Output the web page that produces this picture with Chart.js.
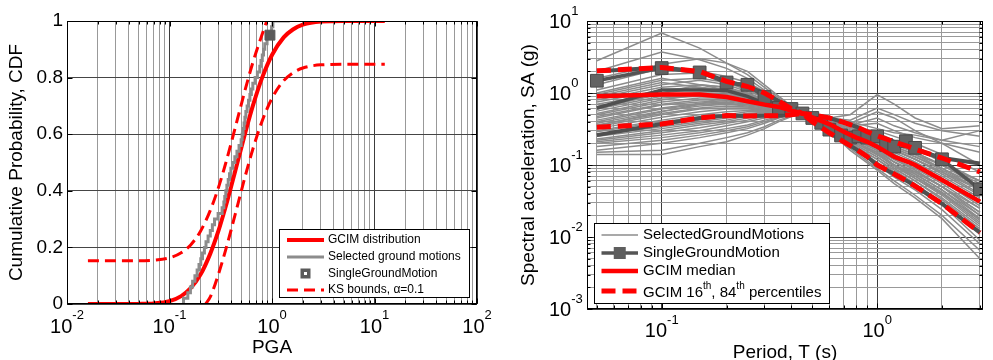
<!DOCTYPE html>
<html>
<head>
<meta charset="utf-8">
<script src="https://cdn.jsdelivr.net/npm/chart.js@4.4.1/dist/chart.umd.min.js"></script>
<style>
  html, body { margin: 0; padding: 0; background: #fff; }
  body { width: 993px; height: 360px; overflow: hidden; position: relative; }
  #cdfChart { position: absolute; left: 0; top: 0; }
  #saChart { position: absolute; left: 500px; top: 0; }
</style>
</head>
<body>
<canvas id="cdfChart" width="500" height="360"></canvas>
<canvas id="saChart" width="493" height="360"></canvas>
<script>
// ---------------- Left panel: CDF of PGA ----------------
const pgaGrid = [0.016, 0.03, 0.05, 0.07, 0.1, 0.13, 0.16, 0.2, 0.25, 0.3, 0.35, 0.4, 0.46, 0.55, 0.65, 0.8, 1.0, 1.3, 1.6, 2.0, 3.0, 5.0, 12.6];
const gcimCdf = [0, 0, 0.0004, 0.002, 0.010, 0.028, 0.055, 0.103, 0.178, 0.258, 0.339, 0.416, 0.5, 0.607, 0.70, 0.799, 0.880, 0.942, 0.970, 0.987, 0.998, 1.0, 1.0];

const ksUpperPGA = [0.016, 0.05, 0.07, 0.1, 0.13, 0.16, 0.2, 0.25, 0.3, 0.35, 0.4, 0.46, 0.55, 0.65, 0.8, 0.89];
const ksUpper = [0.153, 0.153, 0.155, 0.163, 0.181, 0.208, 0.256, 0.331, 0.411, 0.492, 0.569, 0.653, 0.760, 0.853, 0.952, 1.0];
const ksLowerPGA = [0.225, 0.25, 0.3, 0.35, 0.4, 0.46, 0.55, 0.65, 0.8, 1.0, 1.3, 1.6, 2.0, 3.0, 5.0, 12.6];
const ksLower = [0, 0.025, 0.105, 0.186, 0.263, 0.347, 0.454, 0.547, 0.646, 0.727, 0.789, 0.817, 0.834, 0.845, 0.847, 0.847];

// sorted PGA of the selected records (empirical CDF)
const selectedPGA = [0.137, 0.151, 0.160, 0.168, 0.177, 0.186, 0.194, 0.202, 0.210, 0.219,
                     0.227, 0.238, 0.250, 0.262, 0.275, 0.298, 0.326, 0.339, 0.346, 0.354,
                     0.363, 0.374, 0.385, 0.397, 0.415, 0.434, 0.455, 0.477, 0.500, 0.511,
                     0.522, 0.534, 0.544, 0.556, 0.572, 0.590, 0.609, 0.629, 0.650, 0.684,
                     0.720, 0.760, 0.781, 0.804, 0.826, 0.850, 0.895, 0.940, 0.990, 1.020];
const selectedTailPGA = 1.49;
const singlePGA = 0.955;
const singleCdf = 0.95;

// ---------------- Right panel: spectra ----------------
const periodsGM = [0.05, 0.1, 0.15, 0.2, 0.25, 0.3, 0.35, 0.4, 0.45, 0.6, 0.75, 1.0, 1.2, 1.5, 2.0, 3.0];
const selectedSpectra = [
  [2.8, 6.8, 4.2, 2.6, 1.8, 1.2, 0.85, 0.65, 0.52, 0.42, 0.38, 0.55, 0.45, 0.30, 0.20, 0.10],
  [2.0, 3.7, 2.9, 2.2, 1.6, 1.1, 0.8, 0.62, 0.52, 0.45, 0.50, 0.95, 0.70, 0.45, 0.32, 0.35],
  [1.6, 2.5, 3.0, 2.6, 2.0, 1.3, 0.9, 0.66, 0.52, 0.40, 0.30, 0.22, 0.17, 0.13, 0.09, 0.05],
  [1.3, 2.2, 2.0, 1.7, 1.4, 1.05, 0.78, 0.62, 0.52, 0.38, 0.28, 0.20, 0.15, 0.11, 0.07, 0.035],
  [1.1, 1.8, 1.9, 1.5, 1.2, 0.95, 0.75, 0.6, 0.52, 0.33, 0.22, 0.15, 0.10, 0.075, 0.045, 0.02],
  [0.95, 1.5, 1.6, 1.4, 1.1, 0.9, 0.72, 0.58, 0.52, 0.36, 0.26, 0.2, 0.16, 0.12, 0.08, 0.045],
  [0.85, 1.3, 1.5, 1.3, 1.05, 0.88, 0.7, 0.58, 0.52, 0.40, 0.32, 0.28, 0.22, 0.17, 0.11, 0.06],
  [0.8, 1.2, 1.3, 1.2, 1.0, 0.82, 0.68, 0.57, 0.52, 0.34, 0.24, 0.16, 0.12, 0.085, 0.05, 0.022],
  [0.75, 1.1, 1.2, 1.1, 0.95, 0.8, 0.66, 0.56, 0.52, 0.37, 0.27, 0.19, 0.14, 0.10, 0.065, 0.03],
  [0.7, 1.0, 1.15, 1.15, 0.98, 0.78, 0.65, 0.56, 0.52, 0.39, 0.3, 0.24, 0.18, 0.14, 0.10, 0.05],
  [0.65, 0.95, 1.0, 1.0, 0.9, 0.76, 0.64, 0.56, 0.52, 0.35, 0.23, 0.14, 0.10, 0.07, 0.04, 0.018],
  [0.6, 0.9, 1.0, 0.95, 0.85, 0.74, 0.63, 0.56, 0.52, 0.38, 0.29, 0.22, 0.17, 0.13, 0.085, 0.045],
  [0.56, 0.85, 0.9, 0.9, 0.82, 0.72, 0.62, 0.55, 0.52, 0.36, 0.25, 0.17, 0.12, 0.09, 0.055, 0.025],
  [0.52, 0.8, 0.95, 0.92, 0.8, 0.7, 0.61, 0.55, 0.52, 0.41, 0.33, 0.3, 0.25, 0.2, 0.14, 0.08],
  [0.5, 0.75, 0.85, 0.85, 0.78, 0.69, 0.61, 0.55, 0.52, 0.33, 0.21, 0.13, 0.09, 0.06, 0.035, 0.014],
  [0.47, 0.7, 0.8, 0.8, 0.75, 0.68, 0.6, 0.55, 0.52, 0.37, 0.28, 0.21, 0.16, 0.12, 0.075, 0.038],
  [0.45, 0.68, 0.75, 0.78, 0.72, 0.66, 0.6, 0.55, 0.52, 0.35, 0.24, 0.16, 0.11, 0.08, 0.05, 0.02],
  [0.42, 0.62, 0.72, 0.75, 0.7, 0.65, 0.59, 0.54, 0.52, 0.38, 0.3, 0.26, 0.2, 0.15, 0.1, 0.06],
  [0.4, 0.6, 0.7, 0.72, 0.68, 0.64, 0.58, 0.54, 0.52, 0.34, 0.22, 0.14, 0.1, 0.065, 0.04, 0.016],
  [0.38, 0.56, 0.66, 0.7, 0.66, 0.62, 0.58, 0.54, 0.52, 0.36, 0.26, 0.19, 0.14, 0.1, 0.065, 0.03],
  [0.36, 0.52, 0.62, 0.66, 0.64, 0.6, 0.57, 0.54, 0.52, 0.32, 0.2, 0.12, 0.085, 0.055, 0.03, 0.012],
  [0.34, 0.5, 0.6, 0.62, 0.62, 0.6, 0.57, 0.54, 0.52, 0.39, 0.31, 0.25, 0.19, 0.15, 0.1, 0.055],
  [0.32, 0.46, 0.55, 0.6, 0.6, 0.58, 0.56, 0.54, 0.52, 0.35, 0.24, 0.17, 0.12, 0.085, 0.05, 0.022],
  [0.3, 0.42, 0.5, 0.55, 0.57, 0.57, 0.55, 0.53, 0.52, 0.33, 0.21, 0.13, 0.09, 0.06, 0.033, 0.013],
  [0.29, 0.4, 0.46, 0.5, 0.55, 0.56, 0.55, 0.53, 0.52, 0.37, 0.28, 0.21, 0.16, 0.12, 0.08, 0.04],
  [0.27, 0.36, 0.42, 0.48, 0.52, 0.54, 0.54, 0.53, 0.52, 0.34, 0.23, 0.15, 0.1, 0.07, 0.042, 0.017],
  [0.26, 0.34, 0.4, 0.45, 0.5, 0.53, 0.53, 0.53, 0.52, 0.31, 0.19, 0.11, 0.075, 0.05, 0.028, 0.009],
  [0.25, 0.32, 0.38, 0.42, 0.48, 0.52, 0.53, 0.52, 0.52, 0.36, 0.26, 0.18, 0.13, 0.095, 0.06, 0.027],
  [0.23, 0.3, 0.36, 0.4, 0.45, 0.5, 0.52, 0.52, 0.52, 0.32, 0.2, 0.12, 0.08, 0.052, 0.03, 0.011],
  [0.22, 0.28, 0.33, 0.38, 0.42, 0.48, 0.5, 0.51, 0.52, 0.38, 0.3, 0.24, 0.18, 0.14, 0.09, 0.045],
  [0.21, 0.26, 0.3, 0.35, 0.4, 0.45, 0.49, 0.51, 0.52, 0.3, 0.17, 0.09, 0.06, 0.038, 0.02, 0.0065],
  [0.2, 0.24, 0.28, 0.32, 0.36, 0.42, 0.47, 0.5, 0.52, 0.35, 0.25, 0.16, 0.11, 0.075, 0.045, 0.018],
  [0.18, 0.22, 0.26, 0.3, 0.34, 0.4, 0.46, 0.5, 0.52, 0.33, 0.22, 0.14, 0.095, 0.065, 0.038, 0.015],
  [0.16, 0.2, 0.24, 0.28, 0.32, 0.38, 0.45, 0.5, 0.52, 0.31, 0.18, 0.1, 0.068, 0.045, 0.024, 0.008],
  [0.15, 0.16, 0.2, 0.24, 0.28, 0.34, 0.42, 0.48, 0.52, 0.3, 0.16, 0.085, 0.055, 0.035, 0.018, 0.005],
  [0.14, 0.14, 0.18, 0.21, 0.26, 0.32, 0.4, 0.47, 0.52, 0.34, 0.22, 0.15, 0.11, 0.08, 0.05, 0.025],
  [0.6, 1.0, 1.3, 1.2, 0.9, 0.75, 0.62, 0.56, 0.52, 0.45, 0.42, 0.62, 0.5, 0.38, 0.3, 0.25],
  [0.9, 1.4, 1.2, 1.0, 0.85, 0.72, 0.62, 0.56, 0.52, 0.4, 0.36, 0.45, 0.35, 0.28, 0.22, 0.18],
  [0.35, 0.55, 0.7, 0.9, 1.0, 0.8, 0.65, 0.56, 0.52, 0.42, 0.35, 0.38, 0.3, 0.24, 0.2, 0.15],
  [1.0, 1.6, 1.3, 1.1, 0.95, 0.8, 0.66, 0.56, 0.52, 0.44, 0.4, 0.32, 0.28, 0.26, 0.22, 0.3]
];

const periodsSingle = [0.05, 0.1, 0.15, 0.2, 0.25, 0.3, 0.35, 0.4, 0.45, 0.5, 0.55, 0.6, 0.68, 0.75, 0.82, 0.9, 1.0, 1.1, 1.2, 1.36, 1.5, 2.0, 3.0];
const singleSA = [1.48, 2.22, 1.93, 1.40, 1.30, 0.88, 0.62, 0.60, 0.52, 0.45, 0.385, 0.31, 0.257, 0.24, 0.25, 0.24, 0.25, 0.19, 0.18, 0.214, 0.173, 0.12, 0.046];

const periodsGCIM = [0.05, 0.1, 0.15, 0.2, 0.25, 0.3, 0.35, 0.4, 0.45, 0.5, 0.6, 0.7, 0.8, 0.9, 1.0, 1.2, 1.4, 1.5, 2.0, 3.0];
const gcimMedian = [0.90, 0.95, 0.95, 0.88, 0.77, 0.69, 0.64, 0.57, 0.52, 0.46, 0.37, 0.29, 0.24, 0.21, 0.18, 0.13, 0.11, 0.10, 0.062, 0.031];
const gcim84 = [2.03, 2.26, 1.99, 1.45, 1.23, 1.0, 0.77, 0.6, 0.52, 0.50, 0.45, 0.39, 0.34, 0.29, 0.255, 0.21, 0.18, 0.165, 0.125, 0.08];
const gcim16 = [0.334, 0.37, 0.45, 0.485, 0.48, 0.485, 0.485, 0.5, 0.52, 0.40, 0.28, 0.21, 0.165, 0.13, 0.10, 0.075, 0.058, 0.051, 0.029, 0.0115];
// statistics of the selected set (dark lines running under the GCIM curves)
const setMedian = [0.62, 1.1, 1.1, 1.08, 0.9, 0.72, 0.62, 0.56, 0.52, 0.46, 0.37, 0.29, 0.24, 0.21, 0.18, 0.13, 0.11, 0.10, 0.062, 0.031];
const set84 = [2.0, 2.26, 1.99, 1.45, 1.23, 1.0, 0.77, 0.6, 0.52, 0.50, 0.45, 0.39, 0.34, 0.29, 0.255, 0.21, 0.18, 0.165, 0.125, 0.105];
const set16 = [0.26, 0.37, 0.45, 0.485, 0.48, 0.485, 0.485, 0.5, 0.52, 0.40, 0.28, 0.21, 0.165, 0.13, 0.10, 0.075, 0.058, 0.051, 0.029, 0.0115];

// ---------------- styling helpers ----------------
const FONT = "'Liberation Sans', Arial, Helvetica, sans-serif";
Chart.defaults.font.family = FONT;
Chart.defaults.color = '#000';
const RED = '#ff0000', GREY = '#8c8c8c', DARK = '#505050';
const gridMajor = '#3c3c3c', gridMinor = '#999999';

const pts = (xs, ys) => xs.map((x, i) => ({ x: x, y: ys[i] }));
function isDecade(v) { const l = Math.log10(v); return Math.abs(l - Math.round(l)) < 1e-6; }
// ticks at 1..9 x 10^n, used for the log grid
function logTicks(min, max) {
  const out = [];
  for (let e = Math.floor(Math.log10(min)); e <= Math.ceil(Math.log10(max)); e++) {
    for (let m = 1; m <= 9; m++) {
      const v = +(m * Math.pow(10, e)).toPrecision(6);
      if (v >= min * 0.9999 && v <= max * 1.0001) out.push({ value: v });
    }
  }
  return out;
}
const logGridColor = c => (c.tick && isDecade(c.tick.value)) ? gridMajor : gridMinor;

// axes box and inward tick marks
const frame = {
  id: 'frame',
  afterDatasetsDraw(chart) {
    const { ctx, chartArea: a } = chart;
    const L = Math.round(a.left) + 0.5, R = Math.round(a.right) - 0.5;
    const T = Math.round(a.top) + 0.5, B = Math.round(a.bottom) - 0.5;
    ctx.save();
    ctx.strokeStyle = '#000';
    ctx.lineWidth = 1;
    ctx.beginPath();
    const xs = chart.scales.x, ys = chart.scales.y;
    xs.ticks.forEach(t => {
      const p = Math.round(xs.getPixelForValue(t.value)) + 0.5;
      const len = isDecade(t.value) ? 5 : 3;
      ctx.moveTo(p, B); ctx.lineTo(p, B - len);
      ctx.moveTo(p, T); ctx.lineTo(p, T + len);
    });
    ys.ticks.forEach(t => {
      const p = Math.round(ys.getPixelForValue(t.value)) + 0.5;
      const len = (ys.type !== 'logarithmic' || isDecade(t.value)) ? 5 : 3;
      ctx.moveTo(L, p); ctx.lineTo(L + len, p);
      ctx.moveTo(R, p); ctx.lineTo(R - len, p);
    });
    ctx.stroke();
    ctx.strokeRect(L, T, R - L, B - T);
    ctx.restore();
  }
};

// "10" with a raised exponent at each decade tick
const powerLabels = {
  id: 'powerLabels',
  afterDraw(chart, args, opts) {
    const ctx = chart.ctx;
    ctx.save();
    ctx.fillStyle = '#000';
    ctx.textBaseline = 'alphabetic';
    ctx.textAlign = 'left';
    Object.keys(opts).forEach(id => {
      const o = opts[id];
      const scale = chart.scales[id];
      if (!scale || !o || typeof o !== 'object') return;
      scale.ticks.forEach(t => {
        if (!isDecade(t.value)) return;
        const e = String(Math.round(Math.log10(t.value)));
        const p = scale.getPixelForValue(t.value);
        ctx.font = o.base + 'px ' + FONT;
        const wb = ctx.measureText('10').width;
        ctx.font = o.sup + 'px ' + FONT;
        const we = ctx.measureText(e).width;
        let x0, yb, ys;
        if (scale.isHorizontal()) {
          x0 = p - (wb + we) / 2;
          yb = scale.top + o.dyBase;
          ys = scale.top + o.dySup;
        } else {
          x0 = o.left;
          yb = p + o.dyBase;
          ys = p + o.dySup;
        }
        ctx.font = o.base + 'px ' + FONT;
        ctx.fillText('10', x0, yb);
        ctx.font = o.sup + 'px ' + FONT;
        ctx.fillText(e, x0 + wb, ys);
      });
    });
    ctx.restore();
  }
};

// boxed legend inside the axes
const boxLegend = {
  id: 'boxLegend',
  afterDraw(chart, args, o) {
    const ctx = chart.ctx;
    ctx.save();
    const [bx, by, bw, bh] = o.box;
    ctx.fillStyle = '#fff';
    ctx.fillRect(bx, by, bw, bh);
    ctx.strokeStyle = '#000';
    ctx.lineWidth = 1;
    ctx.strokeRect(bx, by, bw, bh);
    o.items.forEach(it => {
      const [s0, s1] = o.sample;
      if (it.width) {
        ctx.beginPath();
        ctx.strokeStyle = it.color;
        ctx.lineWidth = it.width;
        ctx.setLineDash(it.dash || []);
        ctx.moveTo(s0, it.y); ctx.lineTo(s1, it.y);
        ctx.stroke();
        ctx.setLineDash([]);
      }
      if (it.marker) {
        const m = it.marker, cx = (s0 + s1) / 2, h = m.size / 2;
        ctx.fillStyle = m.fill;
        ctx.fillRect(cx - h, it.y - h, m.size, m.size);
        if (m.dot) { ctx.fillStyle = m.dot; ctx.fillRect(cx - 1.5, it.y - 1.5, 3, 3); }
      }
      ctx.fillStyle = '#000';
      ctx.textAlign = 'left';
      if (it.parts) {
        ctx.textBaseline = 'alphabetic';
        let x = o.textX;
        it.parts.forEach(p => {
          ctx.font = (p.sup ? o.supFont : o.font) + 'px ' + FONT;
          ctx.fillText(p.t, x, p.sup ? it.supBaseline : it.baseline);
          x += ctx.measureText(p.t).width;
        });
      } else {
        ctx.textBaseline = 'middle';
        ctx.font = o.font + 'px ' + FONT;
        ctx.fillText(it.text, o.textX, it.y);
      }
    });
    ctx.restore();
  }
};

const common = {
  responsive: false,
  devicePixelRatio: 1,
  animation: false,
  events: [],
  elements: { point: { radius: 0 }, line: { tension: 0 } },
};

// ---------------- left chart ----------------
const ecdf = [{ x: selectedPGA[0], y: 0 }]
  .concat(selectedPGA.map((x, i) => ({ x: x, y: (i + 1) / selectedPGA.length })))
  .concat([{ x: selectedTailPGA, y: 1 }]);

new Chart(document.getElementById('cdfChart'), {
  type: 'line',
  data: {
    datasets: [
      { label: 'KS bounds, α=0.1', data: pts(ksUpperPGA, ksUpper), borderColor: RED, borderWidth: 3, borderDash: [11, 6], cubicInterpolationMode: 'monotone', order: 0 },
      { label: 'KS lower bound', data: pts(ksLowerPGA, ksLower), borderColor: RED, borderWidth: 3, borderDash: [11, 6], cubicInterpolationMode: 'monotone', order: 0 },
      { label: 'SingleGroundMotion', data: [{ x: singlePGA, y: singleCdf }], showLine: false, pointStyle: 'rect', pointRadius: 7, pointBackgroundColor: '#5a5a5a', pointBorderColor: '#5a5a5a', order: 1 },
      { label: 'Selected ground motions', data: ecdf, stepped: 'before', borderColor: GREY, borderWidth: 3, order: 2 },
      { label: 'GCIM distribution', data: pts(pgaGrid, gcimCdf), borderColor: RED, borderWidth: 4, cubicInterpolationMode: 'monotone', order: 3 }
    ]
  },
  options: Object.assign({}, common, {
    layout: { padding: { top: 21, right: 23, left: 0, bottom: 0 } },
    scales: {
      x: {
        type: 'logarithmic', min: 0.01, max: 100,
        afterBuildTicks: s => { s.ticks = logTicks(0.01, 100); },
        afterFit: s => { s.height = 56; },
        ticks: { display: false },
        grid: { color: logGridColor, drawTicks: false, lineWidth: 1 },
        border: { display: false },
        title: { display: true, text: 'PGA', font: { size: 19, lineHeight: 1 }, padding: { top: 0, bottom: 3 } }
      },
      y: {
        type: 'linear', min: 0, max: 1,
        afterFit: s => { s.width = 67; },
        ticks: { stepSize: 0.2, font: { size: 19 }, color: '#000', padding: 4, callback: v => String(+v.toFixed(1)) },
        grid: { color: '#454545', drawTicks: false, lineWidth: 1 },
        border: { display: false },
        title: { display: true, text: 'Cumulative Probability, CDF', font: { size: 19, lineHeight: 1 }, padding: { top: 7.5, bottom: 0 } }
      }
    },
    plugins: {
      legend: { display: false },
      tooltip: { enabled: false },
      powerLabels: { x: { base: 20, sup: 13, dyBase: 29, dySup: 15 } },
      boxLegend: {
        box: [279.5, 229.5, 190, 68], sample: [287, 324], textX: 328, font: 12, supFont: 8,
        items: [
          { y: 240, color: RED, width: 4, text: 'GCIM distribution' },
          { y: 257, color: GREY, width: 3, text: 'Selected ground motions' },
          { y: 273.5, marker: { fill: '#5a5a5a', size: 10, dot: '#ffffff' }, text: 'SingleGroundMotion' },
          { y: 290, color: RED, width: 3, dash: [11, 6], text: 'KS bounds, α=0.1' }
        ]
      }
    }
  }),
  plugins: [frame, powerLabels, boxLegend]
});

// ---------------- right chart ----------------
const greyLines = selectedSpectra.map((sa, i) => ({
  label: 'GM ' + (i + 1), data: pts(periodsGM, sa), borderColor: GREY, borderWidth: 1.5, order: 6
}));

new Chart(document.getElementById('saChart'), {
  type: 'line',
  data: {
    datasets: [
      { label: 'GCIM 84th percentile', data: pts(periodsGCIM, gcim84), borderColor: RED, borderWidth: 5, borderDash: [14, 7], order: 0 },
      { label: 'GCIM 16th percentile', data: pts(periodsGCIM, gcim16), borderColor: RED, borderWidth: 5, borderDash: [14, 7], order: 0 },
      { label: 'GCIM median', data: pts(periodsGCIM, gcimMedian), borderColor: RED, borderWidth: 4.5, order: 1 },
      { label: 'SingleGroundMotion', data: pts(periodsSingle, singleSA), borderColor: '#555555', borderWidth: 3.5,
        pointStyle: 'rect', pointRadius: 9, pointBackgroundColor: '#636363', pointBorderColor: '#4a4a4a', pointBorderWidth: 1, order: 2 },
      { label: 'Set 84th', data: pts(periodsGCIM, set84), borderColor: DARK, borderWidth: 4, order: 3 },
      { label: 'Set 16th', data: pts(periodsGCIM, set16), borderColor: DARK, borderWidth: 4, order: 3 },
      { label: 'Set median', data: pts(periodsGCIM, setMedian), borderColor: DARK, borderWidth: 3.5, order: 3 }
    ].concat(greyLines)
  },
  options: Object.assign({}, common, {
    layout: { padding: { top: 21, right: 1, left: 0, bottom: 0 } },
    scales: {
      x: {
        type: 'logarithmic', min: 0.045, max: 3.1,
        afterBuildTicks: s => { s.ticks = logTicks(0.045, 3.1); },
        afterFit: s => { s.height = 51; },
        ticks: { display: false },
        grid: { color: logGridColor, drawTicks: false, lineWidth: 1 },
        border: { display: false },
        title: { display: true, text: 'Period, T (s)', font: { size: 19, lineHeight: 1 }, padding: { top: 0, bottom: -2 } }
      },
      y: {
        type: 'logarithmic', min: 0.001, max: 10,
        afterBuildTicks: s => { s.ticks = logTicks(0.001, 10); },
        afterFit: s => { s.width = 87; },
        ticks: { display: false },
        grid: { color: logGridColor, drawTicks: false, lineWidth: 1 },
        border: { display: false },
        title: { display: true, text: 'Spectral acceleration, SA (g)', font: { size: 19, lineHeight: 1 }, padding: { top: 19, bottom: 0 } }
      }
    },
    plugins: {
      legend: { display: false },
      tooltip: { enabled: false },
      powerLabels: {
        x: { base: 20, sup: 13, dyBase: 28, dySup: 15 },
        y: { base: 20, sup: 13, left: 49, dyBase: 7, dySup: -6 }
      },
      boxLegend: {
        box: [94.5, 223.5, 235, 80], sample: [101.5, 138], textX: 143, font: 15, supFont: 10,
        items: [
          { y: 235, color: GREY, width: 1.5, text: 'SelectedGroundMotions' },
          { y: 253, color: '#555555', width: 3.5, marker: { fill: '#5e5e5e', size: 12 }, text: 'SingleGroundMotion' },
          { y: 271, color: RED, width: 4.5, text: 'GCIM median' },
          { y: 291, color: RED, width: 5, dash: [14, 7], baseline: 297, supBaseline: 289,
            parts: [{ t: 'GCIM 16' }, { t: 'th', sup: true }, { t: ', 84' }, { t: 'th', sup: true }, { t: ' percentiles' }] }
        ]
      }
    }
  }),
  plugins: [frame, powerLabels, boxLegend]
});
</script>
</body>
</html>
